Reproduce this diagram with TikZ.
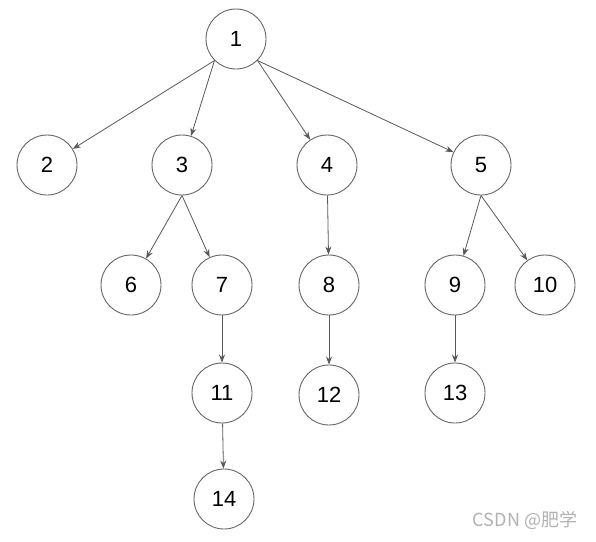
\documentclass[tikz,border=0pt]{standalone}
\usepackage{fontspec}
\setmainfont{Liberation Sans}
\newfontfamily\cjk{Noto Sans CJK SC}
\usetikzlibrary{arrows.meta}
\begin{document}
\begin{tikzpicture}[x=1pt,y=-1pt,
  treenode/.style={circle,draw=black!60,line width=0.9pt,minimum size=60pt,inner sep=0pt,font=\fontsize{22}{24}\selectfont},
  link/.style={draw=black!65,line width=0.8pt,-{Stealth[length=8pt,width=6pt]}}]
\useasboundingbox[fill=white] (0,0) rectangle (596,541);
\node[treenode] (n1) at (236,39) {1};
\node[treenode] (n2) at (47,165) {2};
\node[treenode] (n3) at (182,165) {3};
\node[treenode] (n4) at (327,165) {4};
\node[treenode] (n5) at (481,165) {5};
\node[treenode] (n6) at (131,285) {6};
\node[treenode] (n7) at (222,285) {7};
\node[treenode] (n8) at (329,285) {8};
\node[treenode] (n9) at (455,285) {9};
\node[treenode] (n10) at (545,285) {10};
\node[treenode] (n11) at (222,393) {11};
\node[treenode] (n12) at (329,395) {12};
\node[treenode] (n13) at (455,393) {13};
\node[treenode] (n14) at (224,499) {14};
\draw[link] (n1.south west) -- (n2);
\draw[link] (n1.south west) -- (n3);
\draw[link] (n1.south east) -- (n4);
\draw[link] (n1.south east) -- (n5);
\draw[link] (n3.south) -- (n6);
\draw[link] (n3.south) -- (n7);
\draw[link] (n4) -- (n8);
\draw[link] (n5.south) -- (n9);
\draw[link] (n5.south) -- (n10);
\draw[link] (n7) -- (n11);
\draw[link] (n8) -- (n12);
\draw[link] (n9) -- (n13);
\draw[link] (n11) -- (n14);
\node[text=black!30,font=\cjk\fontsize{18}{20}\selectfont] (wm) at (525,520) {CSDN @肥学};
\end{tikzpicture}
\end{document}
